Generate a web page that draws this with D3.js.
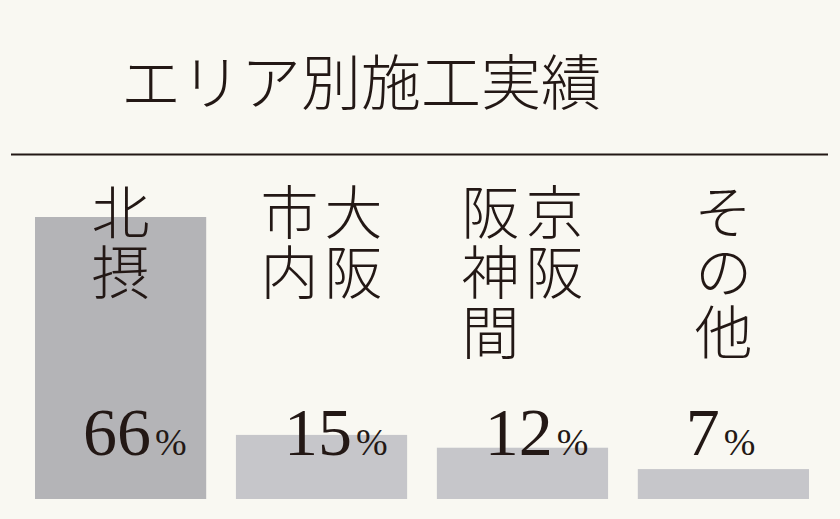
<!DOCTYPE html>
<html>
<head>
<meta charset="utf-8">
<script src="https://cdn.jsdelivr.net/npm/d3@7"></script>
<style>
  html, body { margin: 0; padding: 0; background: #f9f8f2; }
  svg { display: block; }
  .tate {
    writing-mode: vertical-rl;
    font-family: 'Noto Sans CJK JP', 'Noto Sans CJK SC', sans-serif;
    font-weight: 300;
    font-size: 58px;
    line-height: 64px;
    letter-spacing: 2px;
    color: #231815;
    margin: 0;
    white-space: nowrap;
  }
</style>
</head>
<body>
<div id="wrapper"></div>
<script>
// data
const areas = ["北摂", "大阪市内", "京阪神間", "その他"];
const shares = [66, 15, 12, 7];
// label columns, read right to left (tategaki)
const labelColumns = [["北摂"], ["大阪", "市内"], ["京阪", "阪神間"], ["その他"]];
const title = "エリア別施工実績";

const dimensions = {
  width: 840,
  height: 519,
  margin: {top: 217, left: 35, bottom: 20, right: 31}
};
dimensions.boundedWidth = dimensions.width - dimensions.margin.left - dimensions.margin.right;
dimensions.boundedHeight = dimensions.height - dimensions.margin.top - dimensions.margin.bottom;

const ink = "#231815";
const serif = "'Liberation Serif', 'DejaVu Serif', serif";
const cjk = "'Noto Sans CJK JP', 'Noto Sans CJK SC', sans-serif";

const wrapper = d3.select("#wrapper").append("svg")
  .attr("width", dimensions.width)
  .attr("height", dimensions.height);

wrapper.append("rect")
  .attr("width", dimensions.width)
  .attr("height", dimensions.height)
  .attr("fill", "#f9f8f2");

// title + rule
wrapper.append("text")
  .attr("x", 361)
  .attr("y", 78)
  .attr("text-anchor", "middle")
  .attr("dominant-baseline", "central")
  .attr("fill", ink)
  .style("font-family", cjk)
  .style("font-weight", 300)
  .style("font-size", "60px")
  .text(title);

wrapper.append("line")
  .attr("x1", 11).attr("x2", 828)
  .attr("y1", 154.5).attr("y2", 154.5)
  .attr("stroke", ink)
  .attr("stroke-width", 2);

const container = wrapper.append("g")
  .attr("transform", `translate(${dimensions.margin.left}, ${dimensions.margin.top})`);

const xScale = d3.scaleBand()
  .domain(areas)
  .range([0, dimensions.boundedWidth])
  .paddingInner(0.148)
  .paddingOuter(0);

const yScale = d3.scaleLinear()
  .domain([0, d3.max(shares)])
  .range([dimensions.boundedHeight, 0]);

const rows = areas.map((a, i) => ({area: a, value: shares[i], cols: labelColumns[i]}));

// bars
container.selectAll("rect.bar")
  .data(rows)
  .enter()
  .append("rect")
  .attr("class", "bar")
  .attr("x", d => xScale(d.area))
  .attr("width", xScale.bandwidth())
  .attr("y", d => yScale(d.value))
  .attr("height", d => yScale(0) - yScale(d.value))
  .attr("fill", (d, i) => i === 0 ? "#b4b4b7" : "#c6c6ca");

// vertical (tategaki) labels, columns run right to left
const colGap = 64;
const labelTop = 183 - dimensions.margin.top;

container.selectAll("foreignObject.area")
  .data(rows)
  .enter()
  .append("foreignObject")
  .attr("class", "area")
  .attr("x", d => xScale(d.area) + xScale.bandwidth() / 2 - d.cols.length * colGap / 2)
  .attr("y", labelTop)
  .attr("width", d => d.cols.length * colGap)
  .attr("height", 200)
  .append("xhtml:div")
  .attr("class", "tate")
  .html(d => d.cols.join("<br>"));

// percent labels
const pct = container.selectAll("text.pct")
  .data(rows)
  .enter()
  .append("text")
  .attr("class", "pct")
  .attr("x", d => xScale(d.area) + 48)
  .attr("y", 455 - dimensions.margin.top)
  .attr("fill", ink)
  .style("font-family", serif);

pct.append("tspan")
  .style("font-size", "68px")
  .text(d => d.value);
pct.append("tspan")
  .attr("dx", 4)
  .style("font-size", "38px")
  .text("%");
</script>
</body>
</html>
